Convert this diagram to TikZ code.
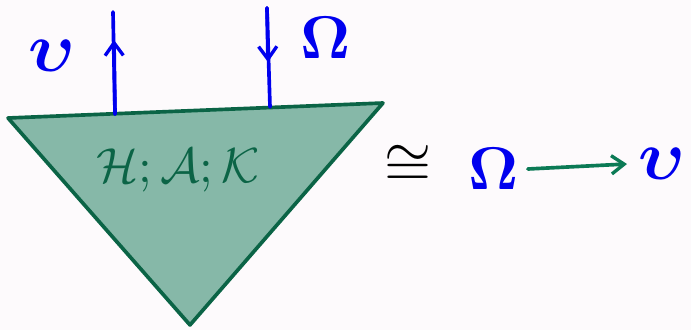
\documentclass[tikz,border=0pt]{standalone}
\usepackage{amsmath}
\usepackage{amssymb}
\usepackage{graphicx}
\usetikzlibrary{arrows.meta}
\definecolor{bgpaper}{HTML}{FDFAFC}
\definecolor{trifill}{HTML}{86B8A8}
\definecolor{triline}{HTML}{0B6446}
\definecolor{inkblue}{HTML}{0000EE}
\definecolor{inkgreen}{HTML}{0B7A55}
\newcommand{\bigsym}[2]{\scalebox{#1}{$#2$}}

\begin{document}
\begin{tikzpicture}[
    x=0.025cm, y=-0.025cm,
    tri/.style={draw=triline, fill=trifill, line width=2.6pt, line join=round},
    wire/.style={draw=inkblue, line width=2.6pt, line cap=round},
    tip/.style={-{Straight Barb[length=9pt, width=13pt, line width=2.4pt]}},
    lab/.style={text=inkblue, inner sep=0pt},
    inner/.style={text=triline, inner sep=0pt},
    map/.style={draw=inkgreen, line width=2.6pt, line cap=round,
        -{Straight Barb[length=9pt, width=13pt, line width=2.4pt]}},
]
\useasboundingbox[fill=bgpaper] (0,0) rectangle (691,330);

% Triangle
\coordinate (tl)  at (8,118);
\coordinate (tr)  at (383,103);
\coordinate (bot) at (190,325);
\draw[tri] (tl) -- (tr) -- (bot) -- cycle;
\node[inner] (hak) at (178,170) {\bigsym{3.5}{\mathcal{H};\mathcal{A};\mathcal{K}}};

% Outgoing wire
\coordinate (vbase) at (115,114);
\coordinate (vmid)  at (114,40);
\coordinate (vtop)  at (113,12);
\draw[wire] (vbase) -- (vtop);
\draw[wire, tip] (vbase) -- (vmid);
\node[lab] (vlab) at (52,56) {\bigsym{5}{\boldsymbol{\upsilon}}};

% Incoming wire
\coordinate (otop)  at (267,8);
\coordinate (omid)  at (268,62);
\coordinate (obase) at (270,107);
\draw[wire] (otop) -- (obase);
\draw[wire, tip] (otop) -- (omid);
\node[lab] (olab) at (326,38) {\bigsym{4.3}{\boldsymbol{\Omega}}};

% Isomorphism
\node[inner sep=0pt] (iso) at (408,166) {\bigsym{4.3}{\cong}};
\node[lab] (om) at (494,169) {\bigsym{4.3}{\boldsymbol{\Omega}}};
\node[lab] (up) at (662,164) {\bigsym{5}{\boldsymbol{\upsilon}}};
\draw[map] ([xshift=6pt]om.east) -- ([xshift=-8pt]up.west);

\end{tikzpicture}
\end{document}
